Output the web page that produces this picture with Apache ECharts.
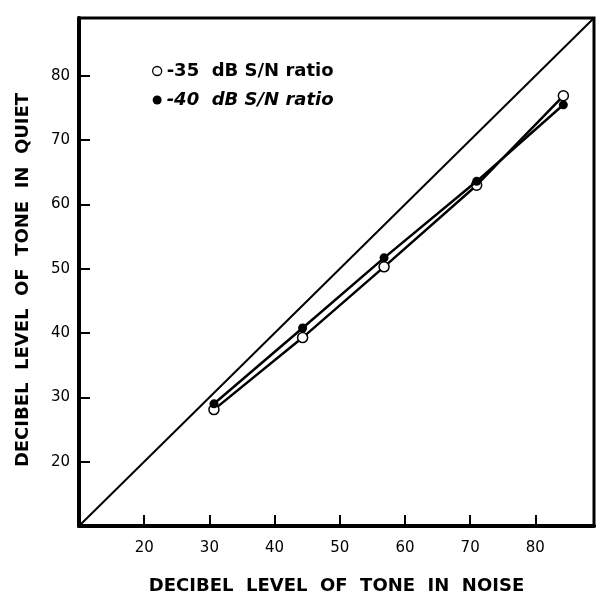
<!DOCTYPE html>
<html>
<head>
<meta charset="utf-8">
<script src="https://cdn.jsdelivr.net/npm/echarts@6/dist/echarts.min.js"></script>
<style>
html,body{margin:0;padding:0;background:#fff;}
#chart{width:603px;height:600px;}
</style>
</head>
<body>
<div id="chart"></div>
<script>
// Data
const noiseLevel35 = [30.7, 44.3, 56.8, 71.0, 84.3];
const quietLevel35 = [28.1, 39.3, 50.3, 63.0, 76.9];
const noiseLevel40 = [30.7, 44.3, 56.8, 71.0, 84.3];
const quietLevel40 = [29.0, 40.8, 51.7, 63.6, 75.5];
const identityLine = [10, 89];
const seriesNames = ['-35  dB S/N ratio', '-40  dB S/N ratio'];
const xTitle = 'DECIBEL  LEVEL  OF  TONE  IN  NOISE';
const yTitle = 'DECIBEL  LEVEL  OF  TONE  IN  QUIET';
const axisMin = 10, axisMax = 89, axisStep = 10;

const zip = (a, b) => a.map((v, i) => [v, b[i]]);
const TITLE_FONT = '"DejaVu Sans", "Liberation Sans", Arial, sans-serif';
const LABEL_FONT = '"DejaVu Sans", "Liberation Sans", Arial, sans-serif';
const tickFmt = v => (v % 10 === 0 && v !== 10) ? String(v) : '';

const chart = echarts.init(document.getElementById('chart'), null, {renderer: 'canvas'});
chart.setOption({
  backgroundColor: '#fff',
  animation: false,
  grid: {left: 79, right: 9, top: 18, bottom: 73, show: true, borderColor: '#000', borderWidth: 3},
  legend: {
    orient: 'vertical', left: 147, top: 57, itemGap: 11, itemWidth: 9, itemHeight: 9,
    textStyle: {fontFamily: TITLE_FONT, fontSize: 18, fontWeight: 'bold', color: '#000'},
    data: [
      {name: seriesNames[0], icon: 'circle', itemStyle: {color: '#fff', borderColor: '#000', borderWidth: 1.3}},
      {name: seriesNames[1], icon: 'circle', itemStyle: {color: '#000'}, textStyle: {fontStyle: 'italic'}}
    ]
  },
  xAxis: {
    type: 'value', min: axisMin, max: axisMax, interval: axisStep,
    name: xTitle, nameLocation: 'middle', nameGap: 51,
    nameTextStyle: {fontFamily: TITLE_FONT, fontSize: 18, fontWeight: 'bold', color: '#000'},
    axisLine: {lineStyle: {color: '#000', width: 4}},
    axisTick: {inside: true, length: 11, lineStyle: {color: '#000', width: 2}},
    axisLabel: {formatter: tickFmt, margin: 15, fontFamily: LABEL_FONT, fontSize: 15, color: '#000'},
    splitLine: {show: false}
  },
  yAxis: {
    type: 'value', min: axisMin, max: axisMax, interval: axisStep,
    name: yTitle, nameLocation: 'middle', nameGap: 47,
    nameTextStyle: {fontFamily: TITLE_FONT, fontSize: 18, fontWeight: 'bold', color: '#000', padding: [0, 16, 0, 0]},
    axisLine: {lineStyle: {color: '#000', width: 4}},
    axisTick: {inside: true, length: 11, lineStyle: {color: '#000', width: 2}},
    axisLabel: {formatter: tickFmt, margin: 9, fontFamily: LABEL_FONT, fontSize: 15, color: '#000'},
    splitLine: {show: false}
  },
  series: [
    {
      name: 'identity', type: 'line', data: zip(identityLine, identityLine),
      symbol: 'none', lineStyle: {color: '#000', width: 2}, silent: true, z: 1
    },
    {
      name: seriesNames[0], type: 'line', data: zip(noiseLevel35, quietLevel35),
      symbol: 'circle', symbolSize: 10,
      itemStyle: {color: '#fff', borderColor: '#000', borderWidth: 1.5},
      lineStyle: {color: '#000', width: 2.5}, z: 3
    },
    {
      name: seriesNames[1], type: 'line', data: zip(noiseLevel40, quietLevel40),
      symbol: 'circle', symbolSize: 9,
      itemStyle: {color: '#000'},
      lineStyle: {color: '#000', width: 2.5}, z: 4
    }
  ]
});
</script>
</body>
</html>
